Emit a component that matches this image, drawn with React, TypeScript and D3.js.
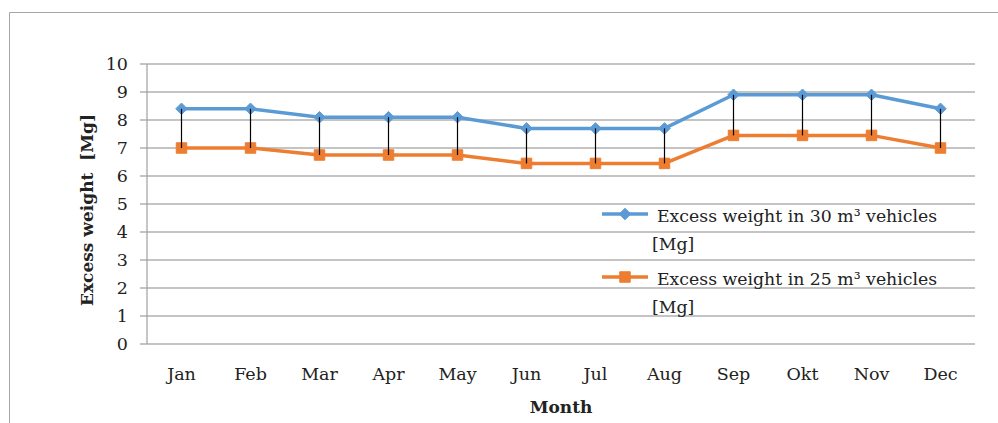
import { useEffect, useRef } from "react";
import * as d3 from "d3";

const months = ["Jan", "Feb", "Mar", "Apr", "May", "Jun", "Jul", "Aug", "Sep", "Okt", "Nov", "Dec"];
const excess30 = [8.4, 8.4, 8.1, 8.1, 8.1, 7.7, 7.7, 7.7, 8.9, 8.9, 8.9, 8.4];
const excess25 = [7.0, 7.0, 6.75, 6.75, 6.75, 6.45, 6.45, 6.45, 7.45, 7.45, 7.45, 7.0];
const yTicks = [0, 1, 2, 3, 4, 5, 6, 7, 8, 9, 10];
const seriesNames = [
  ["Excess weight in 30 m\u00b3 vehicles", "[Mg]"],
  ["Excess weight in 25 m\u00b3 vehicles", "[Mg]"],
];

const BLUE = "#5b9bd5";
const ORANGE = "#ed7d31";
const FONT = "'DejaVu Serif', serif";

export default function App() {
  const svgRef = useRef<SVGSVGElement>(null);

  useEffect(() => {
    if (!svgRef.current) return;
    const svg = d3.select(svgRef.current);
    svg.selectAll("*").remove();

    const width = 998;
    const height = 423;
    const plot = { left: 147, right: 975, top: 64, bottom: 344 };

    // outer frame
    svg.append("path")
      .attr("d", `M9.5,${height} V12.5 H${width}`)
      .attr("fill", "none")
      .attr("stroke", "#a6a6a6")
      .attr("stroke-width", 1);

    const x = d3.scaleBand<string>().domain(months).range([plot.left, plot.right]);
    const y = d3.scaleLinear().domain([0, 10]).range([plot.bottom, plot.top]);
    const cx = (m: string) => (x(m) ?? 0) + x.bandwidth() / 2;

    // grid
    svg.append("g")
      .selectAll("line")
      .data(yTicks)
      .join("line")
      .attr("x1", plot.left - 7)
      .attr("x2", plot.right)
      .attr("y1", (d) => y(d))
      .attr("y2", (d) => y(d))
      .attr("stroke", "#b0b0b0")
      .attr("stroke-width", 1.3);

    svg.append("line")
      .attr("x1", plot.left)
      .attr("x2", plot.left)
      .attr("y1", plot.top)
      .attr("y2", plot.bottom)
      .attr("stroke", "#a0a0a0")
      .attr("stroke-width", 1.2);

    // y tick labels
    svg.append("g")
      .selectAll("text")
      .data(yTicks)
      .join("text")
      .attr("x", 128)
      .attr("y", (d) => y(d) + 6)
      .attr("text-anchor", "end")
      .attr("font-family", FONT)
      .attr("font-size", 17.5)
      .attr("fill", "#222")
      .text((d) => d);

    // x tick labels
    svg.append("g")
      .selectAll("text")
      .data(months)
      .join("text")
      .attr("x", (d) => cx(d))
      .attr("y", 380)
      .attr("text-anchor", "middle")
      .attr("font-family", FONT)
      .attr("font-size", 17.5)
      .attr("fill", "#222")
      .text((d) => d);

    // axis titles
    svg.append("text")
      .attr("x", 561)
      .attr("y", 413)
      .attr("text-anchor", "middle")
      .attr("font-family", FONT)
      .attr("font-size", 17)
      .attr("font-weight", "bold")
      .attr("fill", "#222")
      .text("Month");

    svg.append("text")
      .attr("transform", "translate(93,210) rotate(-90)")
      .attr("text-anchor", "middle")
      .attr("font-family", FONT)
      .attr("font-size", 17)
      .attr("font-weight", "bold")
      .attr("fill", "#222")
      .attr("xml:space", "preserve")
      .text("Excess weight  [Mg]");

    const line = d3.line<number>()
      .x((_, i) => cx(months[i]))
      .y((d) => y(d));

    svg.append("path")
      .datum(excess30)
      .attr("d", line)
      .attr("fill", "none")
      .attr("stroke", BLUE)
      .attr("stroke-width", 3.5)
      .attr("stroke-linejoin", "round");

    svg.append("path")
      .datum(excess25)
      .attr("d", line)
      .attr("fill", "none")
      .attr("stroke", ORANGE)
      .attr("stroke-width", 3.5)
      .attr("stroke-linejoin", "round");

    const diamond = d3.symbol().type(d3.symbolDiamond2).size(85);
    const square = d3.symbol().type(d3.symbolSquare2).size(140);

    svg.append("g")
      .selectAll("path")
      .data(excess30)
      .join("path")
      .attr("transform", (d, i) => `translate(${cx(months[i])},${y(d)})`)
      .attr("d", diamond)
      .attr("fill", BLUE)
      .attr("stroke", BLUE)
      .attr("stroke-width", 1);

    svg.append("g")
      .selectAll("path")
      .data(excess25)
      .join("path")
      .attr("transform", (d, i) => `translate(${cx(months[i])},${y(d)})`)
      .attr("d", square)
      .attr("fill", ORANGE)
      .attr("stroke", ORANGE)
      .attr("stroke-width", 1);

    // high-low lines, drawn over the markers
    svg.append("g")
      .selectAll("line")
      .data(months)
      .join("line")
      .attr("x1", (d) => cx(d))
      .attr("x2", (d) => cx(d))
      .attr("y1", (_, i) => y(excess30[i]))
      .attr("y2", (_, i) => y(excess25[i]))
      .attr("stroke", "#000")
      .attr("stroke-width", 1.2);

    // legend
    const legendY = [214, 277];
    const legendColors = [BLUE, ORANGE];
    const legendSymbols = [diamond, square];
    legendY.forEach((ly, i) => {
      const lg = svg.append("g");
      lg.append("line")
        .attr("x1", 602)
        .attr("x2", 648)
        .attr("y1", ly)
        .attr("y2", ly)
        .attr("stroke", legendColors[i])
        .attr("stroke-width", 3.5);
      lg.append("path")
        .attr("transform", `translate(625,${ly})`)
        .attr("d", legendSymbols[i])
        .attr("fill", legendColors[i])
        .attr("stroke", legendColors[i]);
      lg.append("text")
        .attr("x", 657)
        .attr("y", ly + 8)
        .attr("font-family", FONT)
        .attr("font-size", 17.3)
        .attr("fill", "#222")
        .text(seriesNames[i][0]);
      lg.append("text")
        .attr("x", 652)
        .attr("y", ly + 36)
        .attr("font-family", FONT)
        .attr("font-size", 17.3)
        .attr("fill", "#222")
        .text(seriesNames[i][1]);
    });
  }, []);

  return (
    <svg
      ref={svgRef}
      width={998}
      height={423}
      style={{ position: "absolute", left: 0, top: 0, background: "#fff" }}
    />
  );
}
